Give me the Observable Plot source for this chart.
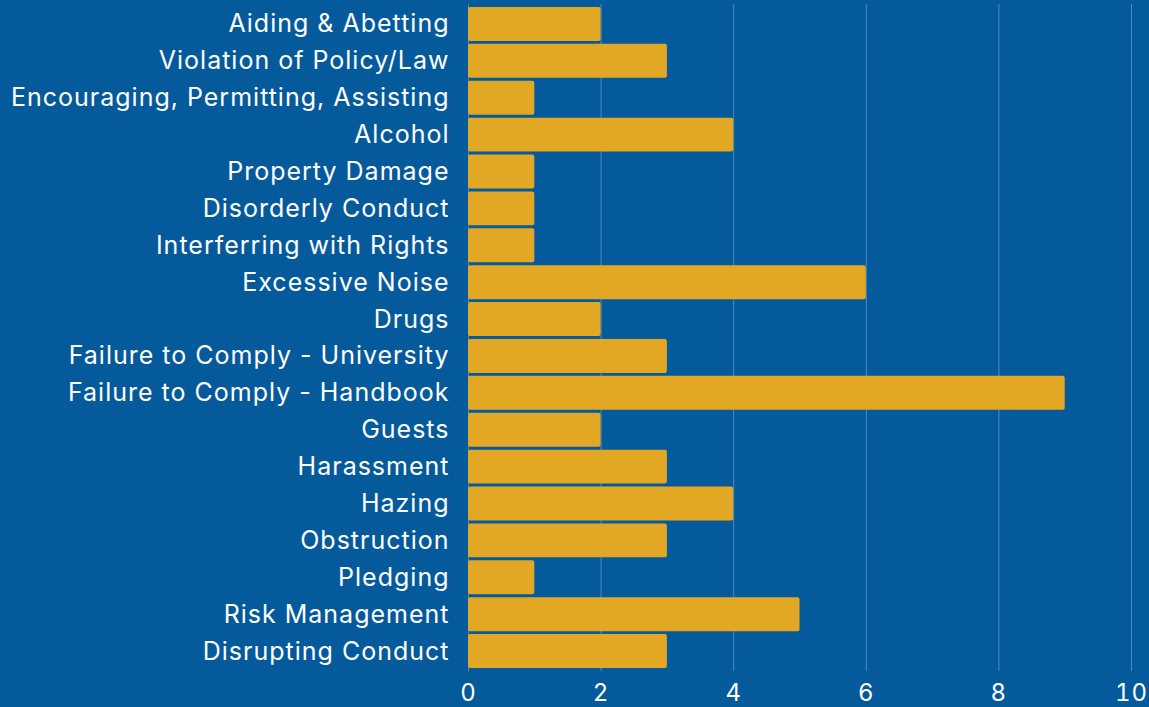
<!DOCTYPE html>
<html>
<head>
<meta charset="utf-8">
<script src="https://cdn.jsdelivr.net/npm/d3@7"></script>
<script src="https://cdn.jsdelivr.net/npm/@observablehq/plot@0.6"></script>
<style>
  html, body { margin: 0; padding: 0; background: #055a9c; }
  #chart { width: 1149px; height: 707px; }
</style>
</head>
<body>
<div id="chart"></div>
<script>
const categories = [
  "Aiding & Abetting",
  "Violation of Policy/Law",
  "Encouraging, Permitting, Assisting",
  "Alcohol",
  "Property Damage",
  "Disorderly Conduct",
  "Interferring with Rights",
  "Excessive Noise",
  "Drugs",
  "Failure to Comply - University",
  "Failure to Comply - Handbook",
  "Guests",
  "Harassment",
  "Hazing",
  "Obstruction",
  "Pledging",
  "Risk Management",
  "Disrupting Conduct"
];
const counts = [2, 3, 1, 4, 1, 1, 1, 6, 2, 3, 9, 2, 3, 4, 3, 1, 5, 3];
const xTicks = [0, 2, 4, 6, 8, 10];

const data = categories.map((c, i) => ({category: c, count: counts[i]}));

const chart = Plot.plot({
  width: 1149,
  height: 707,
  marginLeft: 468,
  marginRight: 18,
  marginTop: 4,
  marginBottom: 36,
  style: {
    background: "#055a9c",
    color: "#ffffff",
    fontFamily: "Inter, 'Open Sans', sans-serif",
    fontSize: "25px",
    letterSpacing: "1px"
  },
  x: {domain: [0, 10], ticks: xTicks, label: null, tickSize: 0},
  y: {domain: categories, label: null, tickSize: 0, padding: 0.08, round: false},
  marks: [
    Plot.gridX(xTicks, {stroke: "#ffffff", strokeOpacity: 0.3, strokeWidth: 1}),
    Plot.barX(data, {x: "count", y: "category", fill: "#e3a823", rx: 2}),
    Plot.axisX({ticks: xTicks, tickSize: 0, tickPadding: 12, fontSize: 24, label: null}),
    Plot.axisY({tickSize: 0, tickPadding: 19, fontSize: 25, label: null})
  ]
});
document.getElementById("chart").appendChild(chart);
</script>
</body>
</html>
